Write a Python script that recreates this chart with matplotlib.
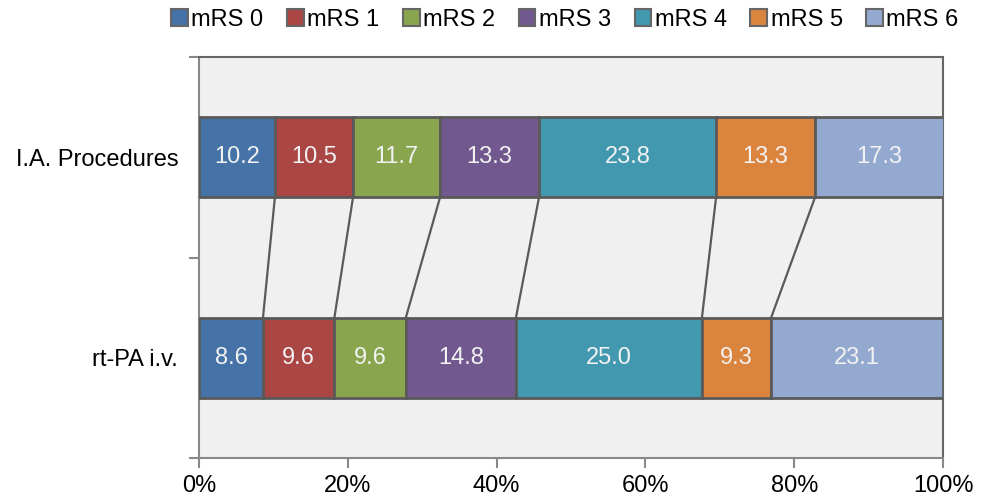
import matplotlib
matplotlib.use("Agg")
import matplotlib.pyplot as plt
from matplotlib.patches import Patch
import numpy as np

plt.rcParams['font.family'] = ['Liberation Sans', 'DejaVu Sans']

categories = ["I.A. Procedures", "rt-PA i.v."]
series = ["mRS 0", "mRS 1", "mRS 2", "mRS 3", "mRS 4", "mRS 5", "mRS 6"]
ia_values = [10.2, 10.5, 11.7, 13.3, 23.8, 13.3, 17.3]
rtpa_values = [8.6, 9.6, 9.6, 14.8, 25.0, 9.3, 23.1]
colors = ["#4572A7", "#AA4643", "#89A54E", "#71588F", "#4198AF", "#DB843D", "#93A9CF"]
xticks = [0, 20, 40, 60, 80, 100]
xticklabels = ["0%", "20%", "40%", "60%", "80%", "100%"]

data = np.array([ia_values, rtpa_values])
fig = plt.figure(figsize=(9.86, 4.96), dpi=100)
ax = fig.add_axes([199/986, 1-458/496, (943-199)/986, (458-57)/496])
ax.set_facecolor("#F0F0F0")

edge = "#5A5A5A"
bh = 0.4
ypos = np.arange(len(categories))
lefts = np.zeros(len(categories))
for j, s in enumerate(series):
    vals = data[:, j]
    ax.barh(ypos, vals, left=lefts, height=bh, color=colors[j], edgecolor=edge, linewidth=2, zorder=3)
    for i in range(len(categories)):
        ax.text(lefts[i] + vals[i]/2, ypos[i], f"{vals[i]:.1f}", ha="center", va="center",
                color="#F2F2F2", fontsize=17, zorder=4)
    lefts = lefts + vals

cum = np.cumsum(data, axis=1)
for j in range(len(series) - 1):
    ax.plot([cum[0, j], cum[1, j]], [ypos[0] + bh/2, ypos[1] - bh/2], color=edge, lw=1.6, zorder=2)

ax.set_xlim(0, 100)
ax.set_ylim(1.5, -0.5)
ax.set_xticks(xticks)
ax.set_xticklabels(xticklabels, fontsize=17)
ax.set_yticks(ypos)
ax.set_yticklabels(categories, fontsize=17)
ax.tick_params(axis='y', length=0, pad=15)
ax.set_yticks([-0.5, 0.5, 1.5], minor=True)
ax.tick_params(axis='y', which='minor', length=7, color="#888888", width=1.5)
ax.tick_params(axis='x', length=7, color="#888888", width=1.5, pad=5)

for side in ['left', 'bottom']:
    ax.spines[side].set_color("#888888")
    ax.spines[side].set_linewidth(1.5)
for side in ['top', 'right']:
    ax.spines[side].set_color("#666666")
    ax.spines[side].set_linewidth(1.5)

handles = [Patch(facecolor=c, edgecolor="#666666", linewidth=1.5) for c in colors]
fig.legend(handles, series, loc="center", bbox_to_anchor=(565/986, 1-20/496), ncol=7, frameon=False,
           fontsize=17, handlelength=0.7, handleheight=0.7, handletextpad=0.15, columnspacing=1.0)

fig.savefig("out.png", dpi=100)
